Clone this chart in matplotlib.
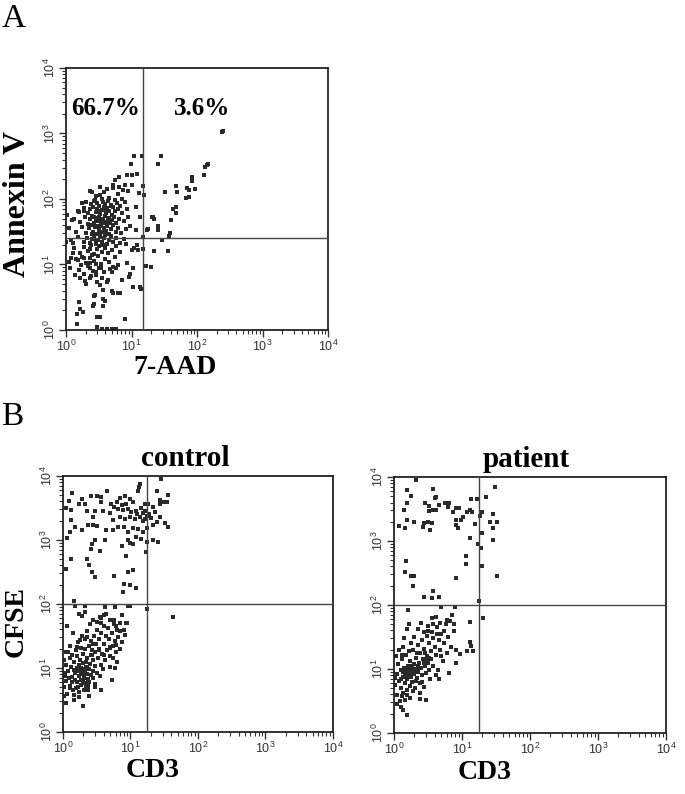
import numpy as np
import matplotlib.pyplot as plt
from matplotlib.ticker import LogLocator, LogFormatterSciNotation

# ---- data (log10 units) ----
# Panel A: 7-AAD (x) vs Annexin V (y)
a_sparse = [(2.38, 3.02), (2.40, 3.04), (1.45, 2.66), (1.41, 2.53), (2.15, 2.52), (2.17, 2.53),
            (2.12, 2.49), (2.11, 2.36), (1.93, 2.33), (1.93, 2.28), (1.68, 2.20), (1.51, 2.11),
            (1.70, 2.11), (1.85, 2.17), (1.87, 2.14), (1.97, 2.15), (1.83, 2.01), (1.87, 2.03),
            (1.64, 1.85), (1.68, 1.87), (1.68, 1.78), (1.61, 1.68), (1.32, 1.73), (1.35, 1.70),
            (1.25, 1.54), (1.41, 1.58), (1.41, 1.53), (1.59, 1.48), (1.57, 1.43), (1.47, 1.38),
            (1.34, 1.21), (1.56, 1.21), (1.18, 2.20), (1.19, 2.06), (1.18, 1.42), (1.17, 1.24),
            (1.03, 2.66), (1.16, 2.66), (0.99, 2.53), (0.81, 2.33), (0.93, 2.36), (1.00, 2.36),
            (1.09, 2.38), (0.90, 2.22), (1.00, 2.22), (0.74, 2.29), (0.71, 2.17), (0.81, 2.18),
            (0.87, 2.14), (0.95, 2.12), (1.12, 2.09), (0.37, 2.12), (0.52, 2.06), (0.42, 1.97),
            (0.24, 1.94), (0.19, 1.82), (0.27, 1.82), (0.01, 1.76), (0.09, 1.68), (1.07, 1.88),
            (1.13, 1.73), (1.24, 1.53), (1.33, 1.73), (1.07, 1.53), (0.00, 1.35), (0.11, 1.33),
            (0.16, 0.24), (0.26, 0.27), (0.21, 0.32), (0.20, 0.42), (0.16, 0.09), (0.48, 0.20),
            (0.52, 0.20), (0.48, 0.05), (0.90, 0.17), (0.41, 0.36), (0.43, 0.39), (0.57, 0.36),
            (0.59, 0.44), (0.57, 0.48), (0.72, 0.56), (0.70, 0.59), (0.80, 0.57), (0.82, 0.56),
            (0.42, 0.52), (0.44, 0.54), (1.13, 0.66), (1.14, 0.62), (1.02, 0.66), (0.57, 0.61),
            (0.31, 0.70), (0.52, 0.68), (0.36, 0.79), (0.62, 0.74), (0.85, 0.76), (0.96, 0.81),
            (0.06, 0.94), (0.04, 1.04), (0.14, 0.84), (0.22, 0.79), (0.23, 0.99), (0.36, 0.94),
            (0.46, 0.88), (0.53, 0.94), (0.70, 0.89), (0.72, 0.96), (0.76, 0.94), (0.93, 1.03),
            (1.02, 0.95), (0.98, 0.86), (1.03, 1.25), (1.08, 1.30), (1.10, 1.22), (1.00, 1.22),
            (0.92, 1.32), (0.11, 1.17), (0.08, 1.10), (0.18, 1.07), (0.28, 1.10), (0.36, 1.02),
            (1.29, 0.96), (1.22, 0.98), (0.55, 0.01), (0.62, 0.02), (0.70, 0.01), (0.77, 0.02)]
a_core = [(0.45, 2.05), (0.58, 2.10), (0.66, 2.02), (0.72, 2.21), (0.79, 2.07), (0.52, 2.18),
          (0.85, 2.00), (0.62, 2.15), (0.40, 2.10), (0.30, 1.95), (0.38, 1.92), (0.44, 1.98),
          (0.50, 1.90), (0.55, 2.00), (0.60, 1.93), (0.64, 1.97), (0.69, 1.91), (0.74, 1.99),
          (0.78, 1.94), (0.83, 1.90), (0.90, 1.96), (0.47, 1.94), (0.57, 1.96), (0.20, 1.80),
          (0.28, 1.86), (0.33, 1.78), (0.36, 1.84), (0.41, 1.88), (0.45, 1.80), (0.48, 1.85),
          (0.52, 1.77), (0.55, 1.83), (0.58, 1.88), (0.61, 1.79), (0.63, 1.86), (0.66, 1.82),
          (0.70, 1.76), (0.72, 1.87), (0.75, 1.81), (0.80, 1.84), (0.86, 1.79), (0.93, 1.85),
          (0.50, 1.81), (0.60, 1.84), (0.68, 1.89), (0.12, 1.70), (0.22, 1.65), (0.29, 1.72),
          (0.34, 1.62), (0.37, 1.69), (0.40, 1.74), (0.43, 1.64), (0.46, 1.71), (0.49, 1.66),
          (0.51, 1.73), (0.54, 1.62), (0.56, 1.69), (0.59, 1.74), (0.62, 1.65), (0.64, 1.71),
          (0.67, 1.63), (0.70, 1.68), (0.73, 1.73), (0.77, 1.64), (0.81, 1.70), (0.88, 1.66),
          (0.95, 1.72), (0.45, 1.67), (0.53, 1.68), (0.58, 1.63), (0.66, 1.70), (0.42, 1.72),
          (0.05, 1.55), (0.15, 1.50), (0.24, 1.57), (0.30, 1.48), (0.35, 1.55), (0.38, 1.60),
          (0.41, 1.50), (0.44, 1.57), (0.47, 1.46), (0.50, 1.53), (0.53, 1.59), (0.55, 1.49),
          (0.58, 1.56), (0.61, 1.51), (0.63, 1.58), (0.66, 1.47), (0.69, 1.54), (0.72, 1.60),
          (0.76, 1.50), (0.79, 1.56), (0.84, 1.48), (0.91, 1.54), (0.98, 1.58), (0.48, 1.58),
          (0.52, 1.47), (0.60, 1.45), (0.39, 1.46), (0.08, 1.38), (0.18, 1.42), (0.27, 1.35),
          (0.32, 1.41), (0.36, 1.33), (0.40, 1.39), (0.43, 1.44), (0.46, 1.31), (0.49, 1.37),
          (0.52, 1.43), (0.55, 1.34), (0.58, 1.40), (0.62, 1.32), (0.65, 1.38), (0.68, 1.44),
          (0.72, 1.35), (0.77, 1.41), (0.83, 1.33), (0.89, 1.39), (0.45, 1.37), (0.12, 1.25),
          (0.21, 1.18), (0.28, 1.27), (0.33, 1.20), (0.38, 1.29), (0.42, 1.16), (0.47, 1.23),
          (0.51, 1.28), (0.55, 1.19), (0.60, 1.25), (0.64, 1.17), (0.70, 1.22), (0.76, 1.28),
          (0.82, 1.19), (0.36, 1.23), (0.57, 1.29), (0.15, 1.08), (0.25, 1.12), (0.31, 1.03),
          (0.37, 1.10), (0.43, 1.05), (0.49, 1.13), (0.54, 1.01), (0.59, 1.09), (0.66, 1.04),
          (0.74, 1.11), (0.46, 1.00), (0.40, 1.14), (0.20, 0.92), (0.33, 0.97), (0.41, 0.90),
          (0.50, 0.95), (0.58, 0.88), (0.67, 0.93), (0.79, 0.99), (0.27, 0.86), (0.29, 0.75),
          (0.38, 0.82), (0.48, 0.73), (0.55, 0.80), (0.64, 0.77), (0.45, 0.84)]

# Panel B control: CD3 (x) vs CFSE (y)
c_high = [(1.14, 3.88), (1.12, 3.83), (1.11, 3.77), (1.45, 3.95), (1.39, 3.77), (1.56, 3.71),
          (1.49, 3.60), (1.54, 3.60), (1.44, 3.57), (0.14, 3.74), (0.09, 3.61), (0.05, 3.50),
          (0.12, 3.47), (0.23, 3.57), (0.28, 3.64), (0.32, 3.57), (0.41, 3.69), (0.51, 3.68),
          (0.57, 3.67), (0.65, 3.77), (0.57, 3.60), (0.71, 3.57), (0.80, 3.59), (0.84, 3.66),
          (0.92, 3.69), (0.99, 3.64), (1.04, 3.59), (0.94, 3.57), (0.87, 3.55), (0.76, 3.52),
          (0.81, 3.48), (0.89, 3.47), (0.96, 3.48), (1.01, 3.44), (1.08, 3.45), (1.15, 3.50),
          (1.21, 3.57), (1.26, 3.57), (1.18, 3.42), (1.24, 3.38), (1.28, 3.41), (1.21, 3.33),
          (1.14, 3.36), (1.06, 3.33), (0.99, 3.36), (0.92, 3.33), (0.84, 3.36), (0.74, 3.31),
          (0.69, 3.42), (0.59, 3.45), (0.47, 3.45), (0.44, 3.36), (0.35, 3.45), (0.50, 3.22),
          (0.45, 3.23), (0.37, 3.23), (0.18, 3.21), (0.12, 3.31), (0.11, 3.13), (0.06, 3.03),
          (0.28, 3.15), (0.64, 3.15), (0.74, 3.15), (0.81, 3.21), (0.91, 3.21), (0.97, 3.13),
          (1.04, 3.18), (1.11, 3.17), (1.18, 3.13), (1.25, 3.18), (1.33, 3.23), (1.39, 3.28),
          (1.43, 3.36), (1.36, 3.44), (1.33, 3.52), (1.43, 3.63), (1.51, 3.26), (1.56, 3.21),
          (1.25, 2.97), (1.33, 3.00), (1.41, 2.97), (1.08, 3.05), (1.15, 3.02), (0.97, 3.00),
          (1.00, 2.96), (1.03, 2.93), (0.88, 2.90), (0.47, 3.00), (0.43, 2.93), (0.42, 2.86),
          (0.55, 2.83), (0.62, 3.00), (0.35, 2.71), (0.38, 2.61), (0.43, 2.50), (0.47, 2.42),
          (0.12, 2.71), (0.04, 2.54), (0.93, 2.75), (0.75, 2.43), (0.91, 2.32), (0.89, 2.18),
          (0.99, 2.30), (1.04, 2.53), (0.96, 2.50), (1.08, 2.25), (0.16, 2.05), (1.23, 2.82),
          (1.19, 3.30), (1.22, 3.46), (1.10, 3.40), (1.30, 3.35)]
c_low = [(0.18, 1.97), (0.33, 1.97), (0.62, 1.96), (0.77, 1.96), (0.97, 1.97), (0.99, 1.97),
         (1.25, 1.92), (1.63, 1.79), (0.23, 1.85), (0.28, 1.82), (0.33, 1.87), (0.45, 1.75),
         (0.55, 1.80), (0.57, 1.70), (0.60, 1.83), (0.75, 1.75), (0.87, 1.83), (0.85, 1.70),
         (0.94, 1.70), (0.78, 1.66), (0.84, 1.58), (0.90, 1.60), (0.06, 1.65), (0.15, 1.54),
         (0.25, 1.44), (0.20, 1.33), (0.04, 1.25), (0.02, 1.12), (0.35, 1.49), (0.45, 1.38),
         (0.53, 1.28), (0.43, 1.20), (0.60, 1.20), (0.69, 1.33), (0.78, 1.36), (0.74, 1.15),
         (0.80, 1.10), (0.77, 1.00), (0.69, 1.02), (0.72, 0.81), (0.57, 0.66), (0.29, 0.41),
         (0.16, 0.50), (0.11, 0.69), (0.05, 0.45), (0.02, 0.56), (0.39, 0.56), (0.37, 0.66),
         (0.48, 0.75), (0.03, 0.92), (0.09, 0.84),
         (0.05, 0.80), (0.08, 0.95), (0.10, 0.72), (0.12, 1.02), (0.14, 0.86), (0.15, 0.65),
         (0.17, 1.10), (0.18, 0.92), (0.20, 0.78), (0.21, 1.00), (0.22, 0.70), (0.23, 0.88),
         (0.24, 1.05), (0.25, 0.95), (0.26, 0.82), (0.27, 0.74), (0.28, 0.99), (0.29, 0.90),
         (0.30, 1.08), (0.31, 0.85), (0.32, 0.96), (0.33, 0.76), (0.34, 1.02), (0.35, 0.91),
         (0.36, 1.15), (0.37, 0.83), (0.38, 0.98), (0.40, 1.06), (0.41, 0.89), (0.42, 1.20),
         (0.44, 0.95), (0.45, 1.12), (0.47, 1.03), (0.48, 1.25), (0.50, 0.92), (0.52, 1.15),
         (0.54, 1.30), (0.56, 1.05), (0.58, 1.22), (0.60, 1.38), (0.62, 1.12), (0.65, 1.28),
         (0.68, 1.45), (0.70, 1.18), (0.74, 1.35), (0.78, 1.25), (0.82, 1.48), (0.88, 1.40),
         (0.02, 0.70), (0.04, 1.05), (0.06, 0.60), (0.09, 0.85), (0.11, 1.15), (0.13, 0.78),
         (0.16, 0.97), (0.19, 0.68), (0.20, 1.18), (0.23, 0.62), (0.25, 1.12), (0.27, 0.90),
         (0.29, 0.80), (0.30, 1.22), (0.32, 1.30), (0.34, 0.70), (0.36, 1.00), (0.38, 1.35),
         (0.39, 0.78), (0.41, 1.42), (0.43, 1.28), (0.45, 0.85), (0.46, 1.50), (0.49, 1.38),
         (0.51, 1.60), (0.53, 1.45), (0.55, 0.88), (0.57, 1.55), (0.59, 0.98), (0.61, 1.65),
         (0.63, 1.50), (0.66, 1.62), (0.69, 1.32), (0.72, 1.55), (0.75, 1.68), (0.77, 1.42),
         (0.80, 1.60), (0.85, 1.30), (0.92, 1.52), (0.95, 1.70), (0.03, 0.88), (0.07, 1.25),
         (0.10, 1.35), (0.14, 1.20), (0.17, 0.58), (0.19, 1.28), (0.22, 1.40), (0.24, 0.55),
         (0.26, 1.32), (0.28, 1.50), (0.31, 0.66), (0.33, 1.45), (0.35, 1.58), (0.37, 0.72),
         (0.40, 1.68), (0.44, 1.75), (0.47, 0.70), (0.50, 1.72), (0.56, 1.78), (0.64, 1.85),
         (0.70, 1.75), (0.18, 0.82), (0.22, 0.95), (0.26, 1.00), (0.30, 0.94), (0.34, 1.10)]

# Panel B patient: CD3 (x) vs CFSE (y)
p_high = [(0.33, 3.96), (0.20, 3.79), (0.25, 3.71), (0.20, 3.59), (0.15, 3.48), (0.08, 3.23),
          (0.16, 3.21), (0.20, 3.33), (0.29, 3.30), (0.58, 3.81), (0.60, 3.67), (0.62, 3.69),
          (0.46, 3.59), (0.52, 3.54), (0.51, 3.47), (0.57, 3.49), (0.62, 3.49), (0.66, 3.57),
          (0.75, 3.60), (0.81, 3.60), (0.80, 3.53), (0.91, 3.51), (0.96, 3.51), (0.87, 3.45),
          (1.08, 3.46), (1.14, 3.66), (1.23, 3.66), (1.12, 3.49), (1.15, 3.45), (1.02, 3.38),
          (0.99, 3.33), (0.91, 3.33), (0.92, 3.25), (0.94, 3.20), (0.45, 3.28), (0.50, 3.30),
          (0.43, 3.22), (0.53, 3.17), (0.56, 3.28), (1.12, 3.04), (1.20, 3.26), (1.26, 3.39),
          (1.29, 3.45), (1.49, 3.84), (1.35, 3.69), (1.46, 3.43), (1.41, 3.30), (1.51, 3.30),
          (1.46, 3.20), (1.46, 3.02), (1.30, 3.12), (1.24, 2.95), (1.28, 2.89), (1.29, 2.61),
          (1.51, 2.45), (1.06, 2.77), (1.06, 2.64), (0.92, 2.43), (0.18, 2.69), (0.17, 2.51),
          (0.25, 2.45), (0.30, 2.45), (0.28, 2.30), (0.58, 2.22), (0.44, 2.12), (0.56, 2.11),
          (0.67, 2.12), (1.25, 2.07)]
p_low = [(0.21, 1.93), (0.70, 1.97), (0.90, 1.97), (1.12, 1.74), (1.31, 1.79), (1.12, 1.43),
         (1.14, 1.36), (1.08, 1.28), (1.16, 1.28), (0.97, 1.24), (0.86, 1.84), (0.88, 1.71),
         (0.78, 1.76), (0.62, 1.81), (0.57, 1.71), (0.50, 1.60), (0.22, 1.71), (0.20, 1.63),
         (0.15, 1.48), (0.12, 1.22), (0.19, 0.28), (0.13, 0.36), (0.91, 1.10), (0.81, 0.94),
         (0.66, 0.84), (0.47, 0.51), (0.39, 0.53), (0.02, 0.86),
         (0.02, 0.75), (0.04, 0.92), (0.05, 0.60), (0.06, 1.08), (0.08, 0.82), (0.09, 0.50),
         (0.10, 0.98), (0.11, 0.70), (0.12, 1.15), (0.13, 0.88), (0.14, 0.62), (0.15, 1.02),
         (0.16, 0.78), (0.17, 0.92), (0.18, 1.22), (0.19, 0.68), (0.20, 0.85), (0.21, 1.05),
         (0.22, 0.95), (0.23, 0.74), (0.24, 1.12), (0.25, 0.88), (0.26, 0.98), (0.27, 0.80),
         (0.28, 1.30), (0.29, 0.92), (0.30, 1.08), (0.31, 0.70), (0.32, 1.00), (0.33, 1.18),
         (0.34, 0.86), (0.35, 1.38), (0.36, 0.95), (0.37, 1.10), (0.38, 0.78), (0.39, 1.25),
         (0.40, 1.02), (0.41, 0.90), (0.42, 1.45), (0.43, 1.15), (0.44, 0.72), (0.45, 1.32),
         (0.46, 1.05), (0.47, 0.94), (0.48, 1.52), (0.49, 1.20), (0.50, 1.10), (0.52, 1.40),
         (0.53, 0.85), (0.54, 1.28), (0.55, 1.15), (0.56, 1.58), (0.58, 1.05), (0.60, 1.35),
         (0.62, 1.22), (0.63, 1.65), (0.65, 0.98), (0.66, 1.45), (0.68, 1.30), (0.70, 1.55),
         (0.72, 1.12), (0.74, 1.40), (0.76, 1.70), (0.78, 1.25), (0.80, 1.50), (0.84, 1.35),
         (0.88, 1.60), (0.92, 1.30), (0.03, 1.20), (0.05, 0.45), (0.07, 1.30), (0.10, 0.40),
         (0.12, 0.58), (0.14, 1.35), (0.16, 0.52), (0.18, 1.00), (0.20, 0.60), (0.22, 1.28),
         (0.24, 0.55), (0.25, 1.40), (0.27, 1.05), (0.28, 0.65), (0.30, 1.50), (0.32, 0.82),
         (0.34, 1.25), (0.36, 1.62), (0.38, 0.62), (0.40, 1.72), (0.42, 0.80), (0.44, 1.58),
         (0.46, 1.25), (0.50, 1.68), (0.52, 0.98), (0.56, 1.80), (0.58, 1.48), (0.62, 0.90),
         (0.64, 1.55), (0.68, 1.72), (0.70, 1.20), (0.74, 1.60), (0.82, 1.75), (0.18, 0.90),
         (0.20, 0.96), (0.22, 0.88), (0.24, 0.98), (0.26, 0.92), (0.28, 1.00), (0.30, 0.96),
         (0.23, 1.00), (0.27, 0.94), (0.21, 0.92), (0.46, 1.12), (0.48, 1.16), (0.50, 1.14),
         (0.52, 1.18), (0.44, 1.10), (0.35, 1.05), (0.38, 1.02), (0.33, 0.98), (0.14, 0.95),
         (0.11, 0.85)]

# quadrant gates (linear units)
a_gate = (15, 25)
c_gate = (17.5, 100)
p_gate = (17.8, 100)
a_pcts = ["66.7%", "3.6%"]

serif = "Liberation Serif"
plt.rcParams['font.family'] = ["Liberation Sans", "DejaVu Sans"]

fig = plt.figure(figsize=(6.85, 7.94), dpi=100)


def flow_panel(rect, groups, gate):
    ax = fig.add_axes(rect)
    for g in groups:
        arr = 10 ** np.array(g)
        ax.scatter(arr[:, 0], arr[:, 1], s=5.5, marker="s", color="#2a2a2a",
                   linewidths=0, zorder=2)
    ax.set_xscale("log")
    ax.set_yscale("log")
    ax.set_xlim(1, 1e4)
    ax.set_ylim(1, 1e4)
    ax.axvline(gate[0], color="#444444", lw=1.0, zorder=3)
    ax.axhline(gate[1], color="#444444", lw=1.0, zorder=3)
    for sp in ax.spines.values():
        sp.set_linewidth(1.3)
        sp.set_color("#222222")
    for axis in (ax.xaxis, ax.yaxis):
        axis.set_major_locator(LogLocator(base=10, numticks=5))
        axis.set_minor_locator(LogLocator(base=10, subs=np.arange(2, 10), numticks=10))
        axis.set_major_formatter(LogFormatterSciNotation())
    ax.tick_params(which="major", direction="out", length=5, width=1.0,
                   labelsize=9, colors="#333333", pad=1)
    ax.tick_params(which="minor", direction="out", length=3, width=0.8, colors="#333333")
    for lab in ax.get_yticklabels():
        lab.set_rotation(90)
        lab.set_va("center")
    return ax


axA = flow_panel([0.0964, 0.5844, 0.3825, 0.330], [a_core, a_sparse], a_gate)
axA.text(0.149, 0.845, a_pcts[0], transform=axA.transAxes, ha="center", va="center",
         family=serif, fontweight="bold", fontsize=18)
axA.text(0.52, 0.845, a_pcts[1], transform=axA.transAxes, ha="center", va="center",
         family=serif, fontweight="bold", fontsize=18)

axC = flow_panel([0.092, 0.0781, 0.394, 0.3224], [c_high, c_low], c_gate)
axP = flow_panel([0.575, 0.0768, 0.397, 0.3224], [p_high, p_low], p_gate)

# labels
fig.text(0.002, 0.977, "A", family=serif, fontsize=24, ha="left", va="center")
fig.text(0.002, 0.475, "B", family=serif, fontsize=24, ha="left", va="center")
fig.text(0.026, 0.743, "Annexin V", family=serif, fontweight="bold", fontsize=23,
         rotation=90, ha="center", va="center")
fig.text(0.255, 0.537, "7-AAD", family=serif, fontweight="bold", fontsize=20,
         ha="center", va="center")
fig.text(0.270, 0.422, "control", family=serif, fontweight="bold", fontsize=21,
         ha="center", va="center")
fig.text(0.768, 0.421, "patient", family=serif, fontweight="bold", fontsize=21,
         ha="center", va="center")
fig.text(0.023, 0.217, "CFSE", family=serif, fontweight="bold", fontsize=20,
         rotation=90, ha="center", va="center")
fig.text(0.223, 0.029, "CD3", family=serif, fontweight="bold", fontsize=20,
         ha="center", va="center")
fig.text(0.707, 0.027, "CD3", family=serif, fontweight="bold", fontsize=20,
         ha="center", va="center")

fig.savefig("out.png", dpi=100)
